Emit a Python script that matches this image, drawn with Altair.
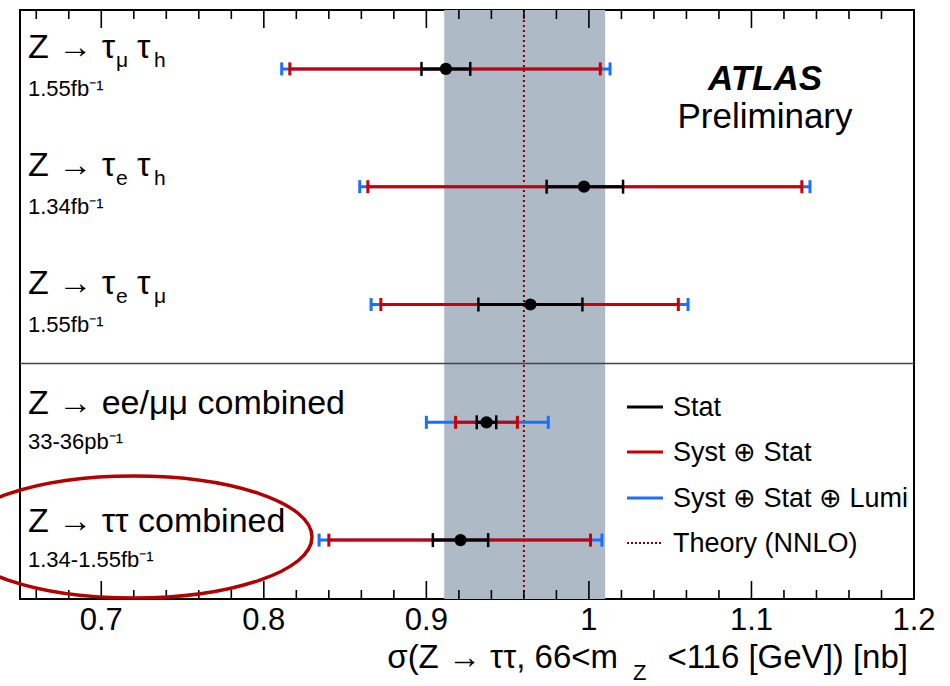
import altair as alt
import pandas as pd

FONT = "Liberation Sans, Arial, Helvetica, sans-serif"

# ---------------- data ----------------
channels = ["Z→τμτh", "Z→τeτh", "Z→τeτμ", "Z→ee/μμ combined", "Z→ττ combined"]
group = ["individual", "individual", "individual", "combined", "combined"]
main_text = ["Z → τ", "Z → τ", "Z → τ", "Z → ee/μμ combined", "Z → ττ combined"]
sub1 = ["μ", "e", "e", "", ""]
tau2 = ["τ", "τ", "τ", "", ""]
sub2 = ["h", "h", "μ", "", ""]
lumi_text = ["1.55fb⁻¹", "1.34fb⁻¹", "1.55fb⁻¹", "33-36pb⁻¹", "1.34-1.55fb⁻¹"]

central = [0.912, 0.997, 0.964, 0.937, 0.921]
stat_lo = [0.897, 0.974, 0.932, 0.931, 0.904]
stat_hi = [0.927, 1.021, 0.996, 0.943, 0.938]
syst_lo = [0.816, 0.864, 0.872, 0.918, 0.840]
syst_hi = [1.007, 1.131, 1.055, 0.956, 1.001]
lumi_lo = [0.811, 0.859, 0.866, 0.900, 0.834]
lumi_hi = [1.013, 1.136, 1.061, 0.975, 1.008]

theory_value = [0.96]
theory_band_lo = [0.911]
theory_band_hi = [1.010]
separator_at = 3

major_ticks = [0.7, 0.8, 0.9, 1.0, 1.1, 1.2]
major_labels = ["0.7", "0.8", "0.9", "1", "1.1", "1.2"]
minor_ticks = [0.66, 0.68, 0.72, 0.74, 0.76, 0.78, 0.82, 0.84, 0.86, 0.88,
               0.92, 0.94, 0.96, 0.98, 1.02, 1.04, 1.06, 1.08, 1.12, 1.14,
               1.16, 1.18]

legend_labels = ["Stat", "Syst ⊕ Stat", "Syst ⊕ Stat ⊕ Lumi", "Theory (NNLO)"]

title_left = "σ(Z → ττ, 66<m"
title_sub = "Z"
title_right = "<116 [GeV]) [nb]"

# ---------------- style ----------------
BLACK = "#000000"
RED = "#cc0000"
BLUE = "#1a6fff"
THEORY = "#7a0000"
BAND = "#aebac6"
ELLIPSE = "#b30000"

W, H = 894, 589

df = pd.DataFrame({
    "row": list(range(len(channels))),
    "channel": channels,
    "group": group,
    "main": main_text,
    "sub1": sub1,
    "tau2": tau2,
    "sub2": sub2,
    "lumi": lumi_text,
    "central": central,
    "stat_lo": stat_lo, "stat_hi": stat_hi,
    "syst_lo": syst_lo, "syst_hi": syst_hi,
    "lumi_lo": lumi_lo, "lumi_hi": lumi_hi,
})

xs = alt.Scale(domain=[0.65, 1.2], nice=False, zero=False)
ys = alt.Scale(domain=[0, 5], reverse=True, nice=False, zero=False)


def X(f):
    return alt.X(f"{f}:Q", scale=xs, axis=None)


def Y(f):
    return alt.Y(f"{f}:Q", scale=ys, axis=None)


base = alt.Chart(df).transform_calculate(pos="datum.row + 0.5")

band = alt.Chart(pd.DataFrame({"lo": theory_band_lo, "hi": theory_band_hi})).mark_rect(
    color=BAND, opacity=1
).encode(x=X("lo"), x2="hi:Q", y=alt.value(0), y2=alt.value(H))

theory = alt.Chart(pd.DataFrame({"t": theory_value})).mark_rule(
    color=THEORY, strokeWidth=2, strokeDash=[2, 3]
).encode(x=X("t"), y=alt.value(0), y2=alt.value(H))

separator = alt.Chart(pd.DataFrame({"s": [separator_at]})).mark_rule(
    color="#444444", strokeWidth=1.5
).encode(y=Y("s"), x=alt.value(0), x2=alt.value(W))


def bar(lo, hi, color, width):
    return base.mark_rule(color=color, strokeWidth=width).encode(
        x=X(lo), x2=f"{hi}:Q", y=Y("pos"))


def caps(lo, hi, color, size, thick):
    return base.transform_fold([lo, hi], as_=["k", "v"]).mark_tick(
        orient="vertical", size=size, thickness=thick, color=color, opacity=1
    ).encode(x=X("v"), y=Y("pos"))


blue_bar = bar("lumi_lo", "lumi_hi", BLUE, 3)
blue_caps = caps("lumi_lo", "lumi_hi", BLUE, 13, 3)
red_bar = bar("syst_lo", "syst_hi", RED, 3)
red_caps = caps("syst_lo", "syst_hi", RED, 13, 3)
black_bar = bar("stat_lo", "stat_hi", BLACK, 3)
black_caps = caps("stat_lo", "stat_hi", BLACK, 14, 2.5)
points = base.mark_circle(size=150, color=BLACK, opacity=1).encode(x=X("central"), y=Y("pos"))

# ---------------- row labels ----------------
ind = base.transform_filter("datum.group == 'individual'")
comb = base.transform_filter("datum.group == 'combined'")
lab_main_ind = ind.mark_text(align="left", baseline="alphabetic", fontSize=34, font=FONT,
                             dy=-11, color=BLACK).encode(x=alt.value(8), y=Y("pos"), text="main:N")
lab_sub1 = ind.mark_text(align="left", baseline="alphabetic", fontSize=21, font=FONT,
                         dy=-2, color=BLACK).encode(x=alt.value(96), y=Y("pos"), text="sub1:N")
lab_tau2 = ind.mark_text(align="left", baseline="alphabetic", fontSize=34, font=FONT,
                         dy=-11, color=BLACK).encode(x=alt.value(117), y=Y("pos"), text="tau2:N")
lab_sub2 = ind.mark_text(align="left", baseline="alphabetic", fontSize=21, font=FONT,
                         dy=-2, color=BLACK).encode(x=alt.value(134), y=Y("pos"), text="sub2:N")
lab_main_comb = comb.mark_text(align="left", baseline="alphabetic", fontSize=34, font=FONT,
                               dy=-8, color=BLACK).encode(x=alt.value(8), y=Y("pos"), text="main:N")
lab_lumi = base.mark_text(align="left", baseline="alphabetic", fontSize=22, font=FONT,
                          dy=27, color=BLACK).encode(x=alt.value(8), y=Y("pos"), text="lumi:N")

# ---------------- axis ticks & labels ----------------
maj = alt.Chart(pd.DataFrame({"v": major_ticks, "lab": major_labels}))
mnr = alt.Chart(pd.DataFrame({"v": minor_ticks}))
tick_top_major = maj.mark_rule(color=BLACK, strokeWidth=1.6).encode(x=X("v"), y=alt.value(0), y2=alt.value(18))
tick_bot_major = maj.mark_rule(color=BLACK, strokeWidth=1.6).encode(x=X("v"), y=alt.value(H - 18), y2=alt.value(H))
tick_top_minor = mnr.mark_rule(color=BLACK, strokeWidth=1.6).encode(x=X("v"), y=alt.value(0), y2=alt.value(9))
tick_bot_minor = mnr.mark_rule(color=BLACK, strokeWidth=1.6).encode(x=X("v"), y=alt.value(H - 9), y2=alt.value(H))
tick_labels = maj.mark_text(align="center", baseline="alphabetic", fontSize=31, font=FONT,
                            color=BLACK).encode(x=X("v"), y=alt.value(H + 31), text="lab:N")

ttl = alt.Chart(pd.DataFrame({"a": [title_left], "b": [title_sub], "c": [title_right]}))
title_a = ttl.mark_text(align="right", baseline="alphabetic", fontSize=33, font=FONT,
                        color=BLACK).encode(x=alt.value(598), y=alt.value(658), text="a:N")
title_b = ttl.mark_text(align="left", baseline="alphabetic", fontSize=22, font=FONT,
                        color=BLACK).encode(x=alt.value(613), y=alt.value(670), text="b:N")
title_c = ttl.mark_text(align="right", baseline="alphabetic", fontSize=33, font=FONT,
                        color=BLACK).encode(x=alt.value(888), y=alt.value(658), text="c:N")

# ---------------- ATLAS label ----------------
atl = alt.Chart(pd.DataFrame({"a": ["ATLAS"], "p": ["Preliminary"]}))
atlas = atl.mark_text(align="center", baseline="alphabetic", fontSize=35, font=FONT,
                      fontWeight="bold", fontStyle="italic", color=BLACK).encode(
    x=alt.value(745), y=alt.value(80), text="a:N")
prelim = atl.mark_text(align="center", baseline="alphabetic", fontSize=35, font=FONT,
                       color=BLACK).encode(x=alt.value(745), y=alt.value(118), text="p:N")

# ---------------- legend ----------------
leg_colors = [BLACK, RED, BLUE, THEORY]
leg_dash = [None, None, None, [2, 2]]
leg_width = [3, 3, 3, 2]
leg_y = [397, 442, 488, 533]
legend_layers = []
for lab, col, dash, wid, ly in zip(legend_labels, leg_colors, leg_dash, leg_width, leg_y):
    ldf = alt.Chart(pd.DataFrame({"lab": [lab]}))
    rule_kwargs = dict(color=col, strokeWidth=wid)
    if dash:
        rule_kwargs["strokeDash"] = dash
    legend_layers.append(ldf.mark_rule(**rule_kwargs).encode(
        x=alt.value(607), x2=alt.value(643), y=alt.value(ly)))
    legend_layers.append(ldf.mark_text(align="left", baseline="alphabetic", fontSize=27,
                                       font=FONT, color=BLACK).encode(
        x=alt.value(653), y=alt.value(ly + 9), text="lab:N"))

# ---------------- highlight ellipse ----------------
ell_path = ("M -1 0 C -1 -0.1894 -0.5523 -0.343 0 -0.343 "
            "C 0.5523 -0.343 1 -0.1894 1 0 "
            "C 1 0.1894 0.5523 0.343 0 0.343 "
            "C -0.5523 0.343 -1 0.1894 -1 0 Z")
ellipse = alt.Chart(pd.DataFrame({"e": ["Z→ττ combined"]})).mark_point(
    shape=ell_path, size=356 ** 2, filled=False, stroke=ELLIPSE, strokeWidth=3.5, opacity=1
).encode(x=alt.value(114), y=alt.value(527))

chart = alt.layer(
    band, theory, separator,
    blue_bar, blue_caps, red_bar, red_caps, black_bar, black_caps, points,
    lab_main_ind, lab_sub1, lab_tau2, lab_sub2, lab_main_comb, lab_lumi,
    tick_top_major, tick_bot_major, tick_top_minor, tick_bot_minor, tick_labels,
    title_a, title_b, title_c, atlas, prelim,
    *legend_layers,
    ellipse,
).properties(
    width=W, height=H,
    padding={"left": 20, "top": 10, "right": 36, "bottom": 87},
    autosize=alt.AutoSizeParams(type="none"),
    background="white",
).configure_view(stroke=BLACK, strokeWidth=2)

chart.save("out.html", embed_options={"renderer": "svg", "actions": False})
